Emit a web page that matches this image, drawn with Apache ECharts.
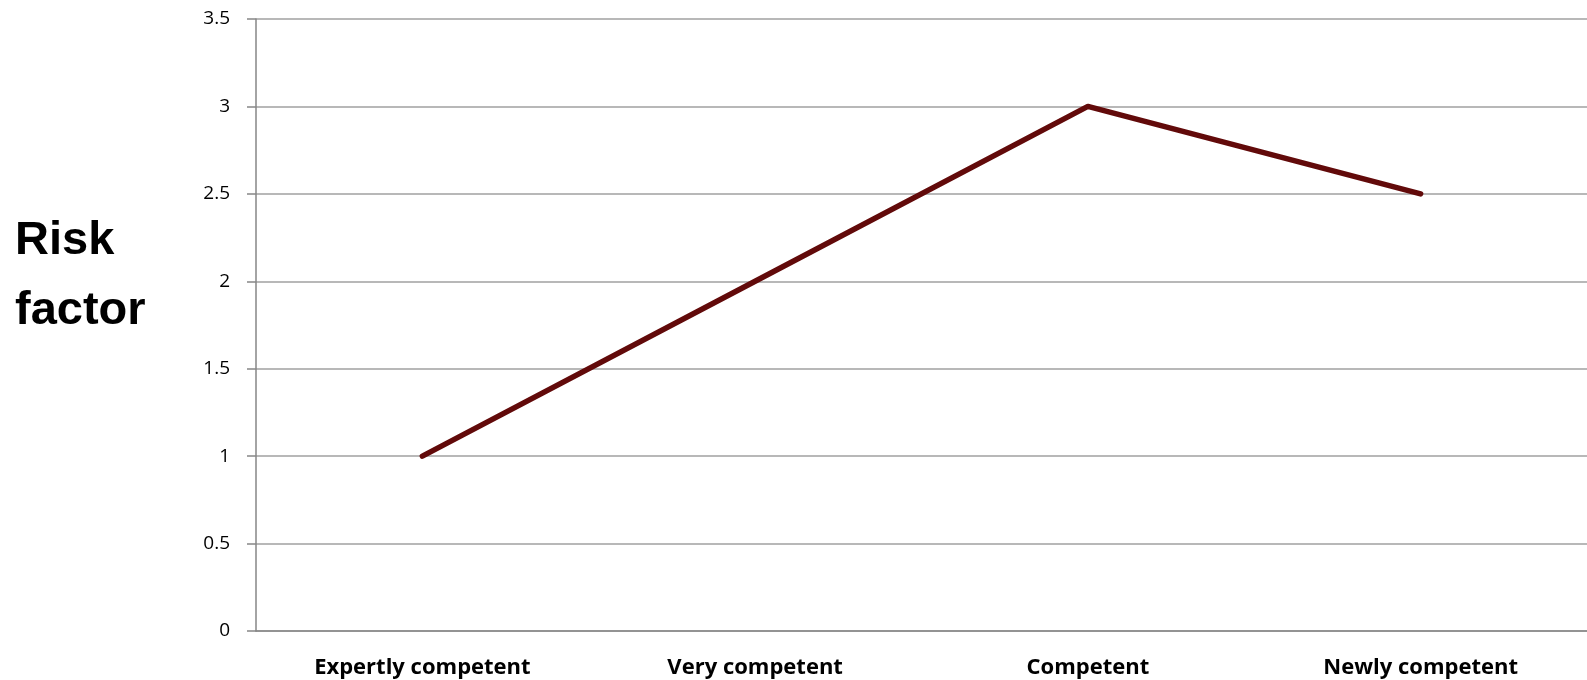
<!DOCTYPE html>
<html>
<head>
<meta charset="utf-8">
<script src="https://cdn.jsdelivr.net/npm/echarts@6/dist/echarts.min.js"></script>
<style>
  html, body { margin: 0; padding: 0; background: #fff; }
  #chart { width: 1587px; height: 680px; }
</style>
</head>
<body>
<div id="chart"></div>
<script>
const categories = ['Expertly competent', 'Very competent', 'Competent', 'Newly competent']
const riskValues = [1, 2, 3, 2.5]
const yTicks = { min: 0, max: 3.5, interval: 0.5 }

const chart = echarts.init(document.getElementById('chart'), null, { renderer: 'canvas' })

chart.setOption({
  animation: false,
  backgroundColor: '#fff',
  grid: { left: 256, right: 0, top: 19, bottom: 49 },
  graphic: [
    {
      type: 'text',
      left: 15,
      top: 206,
      style: {
        text: 'Risk\nfactor',
        font: 'bold 47px "Liberation Sans", Arial, sans-serif',
        lineHeight: 70,
        fill: '#000',
      },
    },
  ],
  xAxis: {
    type: 'category',
    data: categories,
    axisLine: { lineStyle: { color: '#868686', width: 1.5 } },
    axisTick: { length: 8, lineStyle: { color: '#868686', width: 1.5 } },
    axisLabel: {
      margin: 26,
      color: '#000',
      fontWeight: 'bold',
      fontSize: 22,
      fontFamily: '"Open Sans", sans-serif',
    },
  },
  yAxis: {
    type: 'value',
    min: yTicks.min,
    max: yTicks.max,
    interval: yTicks.interval,
    axisLine: { show: true, lineStyle: { color: '#868686', width: 1.5 } },
    axisTick: { show: true, length: 9, lineStyle: { color: '#868686', width: 1.5 } },
    axisLabel: {
      margin: 26,
      color: '#000',
      fontSize: 19,
      fontFamily: '"Open Sans", sans-serif',
    },
    splitLine: { lineStyle: { color: '#a0a0a0', width: 1.5 } },
  },
  series: [
    {
      type: 'line',
      data: riskValues,
      symbol: 'none',
      lineStyle: { color: '#620a0a', width: 5.5, cap: 'round', join: 'round' },
    },
  ],
})
</script>
</body>
</html>
